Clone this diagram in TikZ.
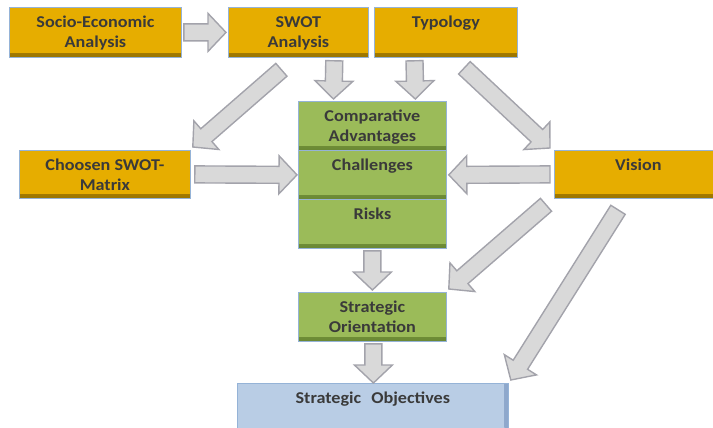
\documentclass[tikz,border=0pt]{standalone}
\usepackage{fontspec}
\setmainfont{Carlito}[FakeStretch=1.1]
\usepackage{tikz}
\usetikzlibrary{calc}
\definecolor{BoxGold}{HTML}{E6AD00}
\definecolor{BoxGoldDark}{HTML}{9A7400}
\definecolor{BoxGreen}{HTML}{9BBB59}
\definecolor{BoxGreenDark}{HTML}{6A8733}
\definecolor{BoxBlue}{HTML}{B9CDE5}
\definecolor{BoxBlueDark}{HTML}{8EA8CC}
\definecolor{BoxLine}{HTML}{95B3D7}
\definecolor{ArrowFill}{HTML}{D9D9D9}
\definecolor{ArrowLine}{HTML}{A3A3AB}
\definecolor{TextGray}{HTML}{3A3A3A}
% block arrow from #1 to #2 (tip)
\newcommand{\BlockArrow}[2]{%
\path #1 coordinate (ArrS) #2 coordinate (ArrE) ($(ArrE)!\Head pt!(ArrS)$) coordinate (ArrH);
\draw[GrayArrow] ($(ArrS)!\Shaft pt!90:(ArrE)$) -- ($(ArrH)!\Shaft pt!90:(ArrE)$)
 -- ($(ArrH)!\Barb pt!90:(ArrE)$) -- (ArrE) -- ($(ArrH)!\Barb pt!-90:(ArrE)$)
 -- ($(ArrH)!\Shaft pt!-90:(ArrE)$) -- ($(ArrS)!\Shaft pt!-90:(ArrE)$) -- cycle;}

\begin{document}
\begin{tikzpicture}[
x=1pt,y=-1pt,
MyBox/.style={draw=BoxLine,line width=0.8pt,anchor=north west,inner xsep=0pt,inner ysep=0pt,
 align=flush center,text height=20pt,text=TextGray,
 font=\bfseries\fontsize{16.5}{20}\selectfont},
BottomShade/.style 2 args={path picture={\shade[top color=#1,bottom color=#2]
 ($(path picture bounding box.south west)+(0,-4)$) rectangle (path picture bounding box.south east);}},
GoldBox/.style={MyBox,fill=BoxGold,BottomShade={BoxGold}{BoxGoldDark}},
GreenBox/.style={MyBox,fill=BoxGreen,BottomShade={BoxGreen}{BoxGreenDark}},
BlueBox/.style={MyBox,fill=BoxBlue,path picture={\shade[left color=BoxBlue,right color=BoxBlueDark]
 ($(path picture bounding box.north east)+(-4,0)$) rectangle (path picture bounding box.south east);}},
GrayArrow/.style={draw=ArrowLine,fill=ArrowFill,line width=1.4pt,line join=miter}
]
\useasboundingbox (0,0) rectangle (713,428);
\clip (0,0) rectangle (713,428);

% sizes of the block arrows
\pgfmathparse{8.5}	\let\Shaft\pgfmathresult
\pgfmathparse{19}	\let\Barb\pgfmathresult
\pgfmathparse{18}	\let\Head\pgfmathresult

% first row
\node[GoldBox,text width=172pt,text depth=30pt] (socio) at (9,7) {Socio-Economic\\Analysis};
\node[GoldBox,text width=140pt,text depth=30pt] (swot) at (228,7) {SWOT\\Analysis};
\node[GoldBox,text width=143pt,text depth=30pt] (typo) at (374,7) {Typology};

% middle row
\node[GoldBox,text width=171pt,text depth=28pt] (choose) at (19,150) {Choosen SWOT-\\Matrix};
\node[GreenBox,text width=148pt,text depth=29pt] (comp) at (298,101) {Comparative\\Advantages};
\node[GreenBox,text width=148pt,text depth=29pt] (chal) at (298,150) {Challenges};
\node[GreenBox,text width=148pt,text depth=29pt] (risk) at (298,199) {Risks};
\node[GoldBox,text width=168pt,text depth=28pt] (vision) at (554,150) {Vision};

% bottom
\node[GreenBox,text width=148pt,text depth=29pt] (orient) at (298,292) {Strategic\\Orientation};
\node[BlueBox,text width=271pt,text depth=30pt] (obj) at (237,383) {Strategic\kern6pt{} Objectives};

% arrows
\BlockArrow{($(socio.east)+(2,0)$)}{($(swot.west)+(-2,0)$)}
\BlockArrow{($(swot.south east)+(-34.5,3)$)}{($(comp.north west)+(35.5,-2)$)}
\BlockArrow{($(typo.south west)+(40.5,3)$)}{($(comp.north east)+(-31.5,-2)$)}
\BlockArrow{($(swot.south)+(-17,12)$)}{($(choose.north east)+(2,-3)$)}
\BlockArrow{($(typo.south)+(18.5,10)$)}{($(vision.north west)+(-4,-2)$)}
\BlockArrow{($(choose.east)+(4,0)$)}{($(chal.west)+(-1,0)$)}
\BlockArrow{($(vision.west)+(-4,0)$)}{($(chal.east)+(2,0)$)}
\BlockArrow{($(risk.south)+(0,2)$)}{($(orient.north)+(0,-2)$)}
\BlockArrow{($(orient.south)+(1,2)$)}{($(obj.north)+(0.5,0)$)}
\BlockArrow{($(vision.south west)+(-8,6)$)}{($(orient.north east)+(2,-3)$)}
\BlockArrow{($(vision.south west)+(64,11)$)}{($(obj.north east)+(2,-3)$)}

\end{tikzpicture}
\end{document}
